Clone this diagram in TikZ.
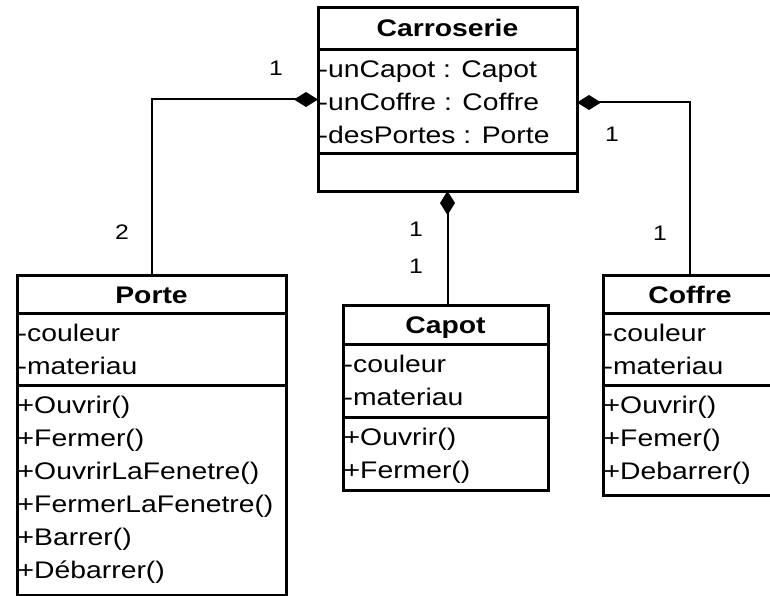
\documentclass[tikz,border=0pt]{standalone}
\usepackage{fontspec}
\setmainfont{Liberation Sans}[FakeStretch=1.18]
\usetikzlibrary{arrows.meta}

% one row of a class compartment: name, x, baseline, text
\newcommand\umlrow[4]{\node[member] (#1) at (#2,#3) {#4};}

\begin{document}
\begin{tikzpicture}[x=1pt,y=-1pt,
  classbox/.style={draw, line width=3pt, inner sep=0pt, outer sep=0pt, anchor=north west},
  sep/.style={line width=3pt},
  title/.style={font=\fontsize{24}{28}\selectfont\bfseries, anchor=base, inner sep=0pt},
  member/.style={font=\fontsize{24}{28}\selectfont, anchor=base west, inner sep=0pt},
  mult/.style={font=\fontsize{21}{24}\selectfont, inner sep=0pt},
  comp/.style={line width=2pt, {Diamond[length=24pt,width=15pt]}-}
]
\useasboundingbox (0,0) rectangle (770,596);
\clip (0,0) rectangle (770,596);

% ---- Carroserie ----
\node[classbox, minimum width=259pt, minimum height=183pt] (carr) at (318,8) {};
\draw[sep] (318,50) -- (577,50);
\draw[sep] (318,154) -- (577,154);
\node[title] (carrT) at (447.5,37) {Carroserie};
\umlrow{carrA1}{318.5}{78}{-unCapot : Capot}
\umlrow{carrA2}{318.5}{111}{-unCoffre : Coffre}
\umlrow{carrA3}{318.5}{144}{-desPortes : Porte}

% ---- Porte ----
\node[classbox, minimum width=269pt, minimum height=320pt] (porte) at (17,275) {};
\draw[sep] (17,313) -- (286,313);
\draw[sep] (17,385) -- (286,385);
\node[title] (porteT) at (151.5,303) {Porte};
\umlrow{porteA1}{17.5}{341}{-couleur}
\umlrow{porteA2}{17.5}{374}{-materiau}
\umlrow{porteM1}{17.5}{413}{+Ouvrir()}
\umlrow{porteM2}{17.5}{446}{+Fermer()}
\umlrow{porteM3}{17.5}{479}{+OuvrirLaFenetre()}
\umlrow{porteM4}{17.5}{512}{+FermerLaFenetre()}
\umlrow{porteM5}{17.5}{545}{+Barrer()}
\umlrow{porteM6}{17.5}{578}{+Débarrer()}

% ---- Capot ----
\node[classbox, minimum width=205pt, minimum height=185pt] (capot) at (343,305) {};
\draw[sep] (343,344) -- (548,344);
\draw[sep] (343,417) -- (548,417);
\node[title] (capotT) at (445.5,333) {Capot};
\umlrow{capotA1}{343.5}{372}{-couleur}
\umlrow{capotA2}{343.5}{405}{-materiau}
\umlrow{capotM1}{343.5}{445}{+Ouvrir()}
\umlrow{capotM2}{343.5}{478}{+Fermer()}

% ---- Coffre ----
\node[classbox, minimum width=174pt, minimum height=220pt] (coffre) at (603,275) {};
\draw[sep] (603,313) -- (777,313);
\draw[sep] (603,385) -- (777,385);
\node[title] (coffreT) at (690,303) {Coffre};
\umlrow{coffreA1}{603.5}{341}{-couleur}
\umlrow{coffreA2}{603.5}{374}{-materiau}
\umlrow{coffreM1}{603.5}{413}{+Ouvrir()}
\umlrow{coffreM2}{603.5}{446}{+Femer()}
\umlrow{coffreM3}{603.5}{479}{+Debarrer()}

% ---- compositions ----
\draw[comp] (carr.west) -| (porte.north);
\draw[comp] ([yshift=-3pt]carr.east) -| (coffre.north);
\draw[comp] (carr.south) -- (carr.south |- capot.north);

% ---- multiplicities ----
\node[mult] (mPorteA) at (276,68) {1};
\node[mult] (mPorteB) at (122,232) {2};
\node[mult] (mCapotA) at (416,229) {1};
\node[mult] (mCapotB) at (416,266) {1};
\node[mult] (mCoffreA) at (612,134) {1};
\node[mult] (mCoffreB) at (660,233) {1};
\end{tikzpicture}
\end{document}
